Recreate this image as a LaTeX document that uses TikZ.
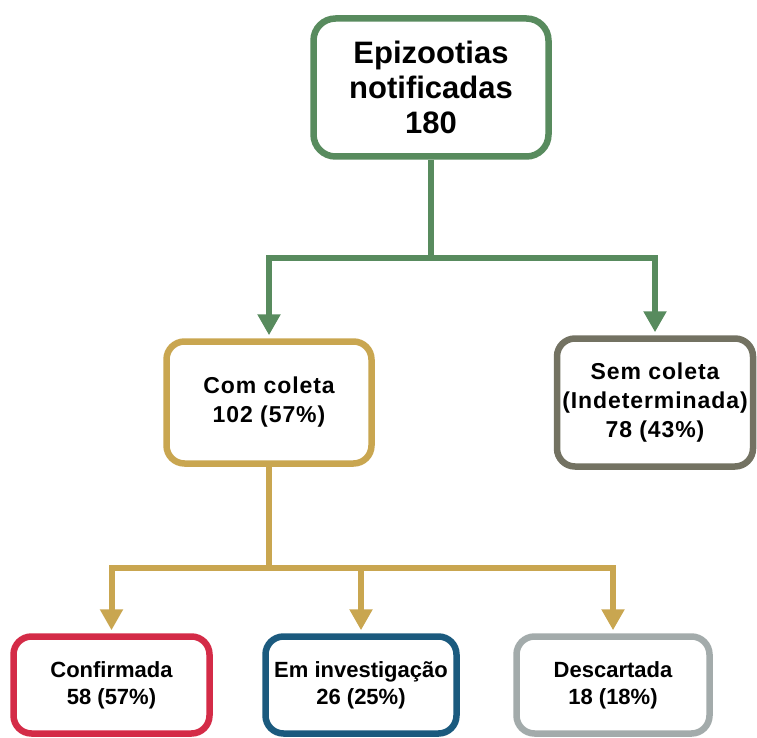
\documentclass[tikz,border=0pt]{standalone}
\usepackage{fontspec}
\setmainfont{Liberation Sans}
\newfontfamily\spacedfont{Liberation Sans}[LetterSpace=4]
\usetikzlibrary{arrows.meta}

\definecolor{epigreen}{RGB}{88,139,94}
\definecolor{epigold}{RGB}{201,166,80}
\definecolor{epiolive}{RGB}{115,114,98}
\definecolor{epired}{RGB}{212,43,71}
\definecolor{epiblue}{RGB}{27,90,126}
\definecolor{epigray}{RGB}{163,171,171}

\tikzset{
	box/.style = {draw, line width=6.5pt, rounded corners=18pt, fill=white,
		align=center, font=\bfseries},
	link/.style = {line width=6pt},
	arrow/.style = {link, -{Triangle[width=22pt,length=21pt]}, shorten >=3pt}
}

\begin{document}
\begin{tikzpicture}[x=1pt, y=-1pt]
	\useasboundingbox (0,0) rectangle (757,738);

	% Nodes
	\node[box, draw=epigreen, rounded corners=22pt, minimum width=235pt, minimum height=138pt,
		font=\bfseries\fontsize{31}{35}\selectfont] (total) at (431,87.5)
		{Epizootias\\notificadas\\180};
	\node[box, draw=epigold, minimum width=205pt, minimum height=122pt,
		font=\bfseries\spacedfont\fontsize{23}{29}\selectfont] (com) at (269,402.5)
		{Com coleta\\102 (57\%)};
	\node[box, draw=epiolive, minimum width=196pt, minimum height=128pt,
		font=\bfseries\spacedfont\fontsize{23}{29}\selectfont] (sem) at (655,402.5)
		{Sem coleta\\(Indeterminada)\\78 (43\%)};
	\node[box, draw=epired, minimum width=196pt, minimum height=97pt,
		font=\bfseries\fontsize{22}{27}\selectfont] (conf) at (111.5,685)
		{Confirmada\\58 (57\%)};
	\node[box, draw=epiblue, minimum width=191pt, minimum height=97pt,
		font=\bfseries\fontsize{22}{27}\selectfont] (inv) at (361,685)
		{Em investigação\\26 (25\%)};
	\node[box, draw=epigray, minimum width=193pt, minimum height=97pt,
		font=\bfseries\fontsize{22}{27}\selectfont] (desc) at (613,685)
		{Descartada\\18 (18\%)};

	\coordinate (splitA) at (431,258);
	\coordinate (splitB) at (269,568);

	% Arrows
	\draw[link, epigreen] (total) -- (splitA);
	\draw[arrow, epigreen] (splitA) -| (com);
	\draw[arrow, epigreen] (splitA) -| (sem);
	\draw[link, epigold] (com) -- (splitB);
	\draw[arrow, epigold] (splitB) -| (conf);
	\draw[arrow, epigold] (splitB) -| (inv);
	\draw[arrow, epigold] (splitB) -| (desc);
\end{tikzpicture}
\end{document}
